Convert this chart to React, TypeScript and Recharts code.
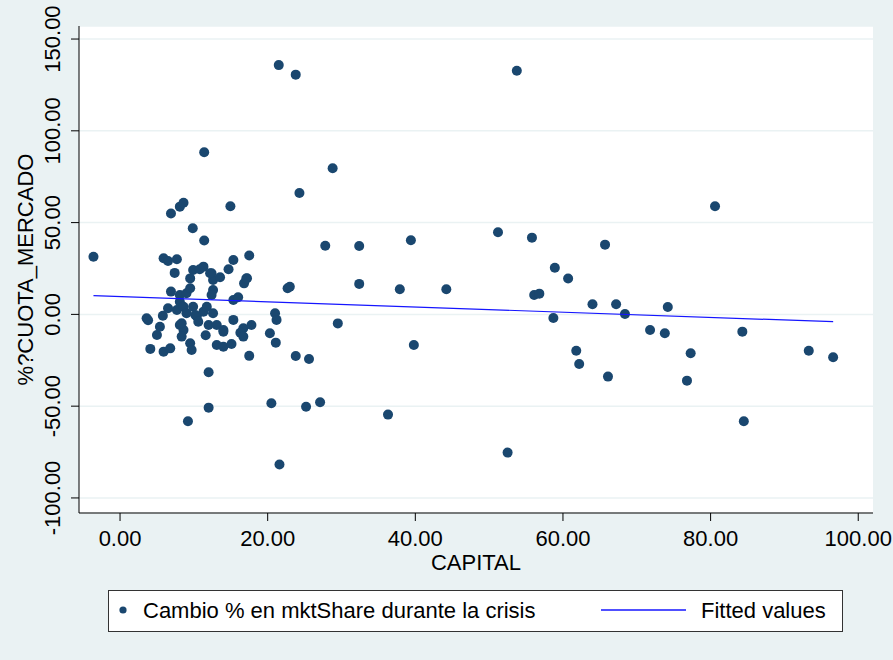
import React from 'react'
import {
  ScatterChart,
  Scatter,
  XAxis,
  YAxis,
  CartesianGrid,
} from 'recharts'

/* ---------- data ---------- */

// CAPITAL (x) and % change in market share (y)
const CAPITAL = [
  -3.6, 3.6, 3.8, 4.1, 5.0, 5.4, 5.8, 5.9, 5.9, 6.5,
  6.5, 6.8, 6.9, 6.9, 7.4, 7.7, 7.7, 8.1, 8.6, 8.1,
  8.1, 8.6, 8.1, 8.6, 8.35, 9.0, 9.5, 9.0, 9.2, 9.5,
  9.7, 9.5, 9.85, 9.9, 9.9, 10.4, 10.8, 11.3, 11.4, 11.4,
  11.75, 11.3, 12.0, 11.6, 12.0, 12.0, 12.4, 12.6, 12.6, 12.4,
  12.6, 13.1, 13.55, 14.0, 13.1, 14.0, 15.1, 14.7, 14.95, 15.35,
  15.35, 16.0, 15.35, 16.7, 16.3, 16.7, 17.2, 16.8, 17.5, 17.8,
  17.5, 20.3, 20.5, 21.0, 21.2, 21.1, 21.6, 21.5, 23.8, 22.7,
  23.0, 23.8, 24.3, 25.6, 25.2, 27.1, 27.8, 28.8, 29.5, 32.4,
  32.4, 36.3, 37.9, 39.4, 39.8, 44.2, 51.2, 52.5, 53.75, 55.8,
  56.1, 56.8, 58.7, 58.9, 60.7, 61.8, 62.2, 64.0, 65.7, 66.1,
  67.2, 68.4, 71.8, 73.8, 74.2, 76.8, 77.3, 80.6, 84.3, 84.5,
  93.3, 96.6, 10.2, 12.2, 14.0, 8.35, 10.6, 17.1,
]
const CUOTA = [
  31.4, -2.1, -3.2, -18.8, -11.2, -6.7, -0.7, 30.6, -20.3, 29.1,
  3.3, -18.5, 55.0, 12.4, 22.6, 30.0, 2.4, 58.7, 60.8, 10.6,
  6.9, 4.2, -5.8, -8.5, -12.1, 11.5, 14.2, 0.6, -58.2, -15.7,
  -19.4, 19.6, 46.9, 24.2, 4.2, -1.2, 24.6, 1.5, 88.3, 40.2,
  4.2, 26.0, -5.8, -11.4, -31.5, -50.8, 22.4, 18.7, 13.3, 10.6,
  0.6, -5.8, 20.2, -9.4, -16.7, -17.6, -16.1, 24.6, 58.9, 29.6,
  7.8, 9.3, -3.0, -7.6, -10.0, -12.1, 19.7, 16.9, 32.1, -5.8,
  -22.6, -10.3, -48.4, 0.6, -3.0, -15.4, -81.8, 135.8, 130.6, 14.2,
  15.1, -22.7, 66.1, -24.3, -50.3, -47.9, 37.4, 79.6, -4.9, 37.3,
  16.6, -54.6, 13.7, 40.4, -16.7, 13.7, 44.7, -75.3, 132.7, 41.8,
  10.6, 11.3, -2.0, 25.4, 19.5, -19.8, -27.0, 5.5, 38.0, -33.9,
  5.5, 0.2, -8.5, -10.3, 4.0, -36.1, -21.2, 58.9, -9.4, -58.2,
  -19.8, -23.4, -0.3, 22.4, -8.5, -4.8, -4.0, 19.5,
]

// fitted regression line end points
const FIT_X = [-3.6, 96.6]
const FIT_Y = [10.2, -4.0]

const X_TICKS = [0, 20, 40, 60, 80, 100]
const Y_TICKS = [-100, -50, 0, 50, 100, 150]

const SERIES_NAMES = ['Cambio % en mktShare durante la crisis', 'Fitted values']

const points = CAPITAL.map((x, i) => ({ x, y: CUOTA[i] }))
const fitted = FIT_X.map((x, i) => ({ x, y: FIT_Y[i] }))

const BG = '#eaf2f3'
const NAVY = '#1a476f'
const BLUE = '#1515ff'
const FONT = '"Liberation Sans", Arial, sans-serif'

/* ---------- ticks / labels ---------- */

function XTick(props: any) {
  const { x, y, payload } = props
  return (
    <text x={x} y={y} dy="0.71em" textAnchor="middle" fontSize={22} fill="#000" fontFamily={FONT}>
      {Number(payload.value).toFixed(2)}
    </text>
  )
}

function YTick(props: any) {
  const { x, y, payload } = props
  return (
    <text
      x={x}
      y={y}
      transform={`rotate(-90 ${x} ${y})`}
      textAnchor="middle"
      fontSize={22}
      fill="#000"
      fontFamily={FONT}
    >
      {Number(payload.value).toFixed(2)}
    </text>
  )
}

const Dot = (props: any) => <circle cx={props.cx} cy={props.cy} r={5} fill={NAVY} />

export default function App() {
  return (
    <div style={{ position: 'absolute', left: 0, top: 0, width: 893, height: 660, background: BG, fontFamily: FONT }}>
      <ScatterChart width={893} height={660} margin={{ top: 26, right: 20, bottom: 0, left: 0 }}>
        <CartesianGrid horizontal vertical={false} stroke={BG} strokeWidth={1.5} fill="#ffffff" fillOpacity={1} />
        <XAxis
          type="number"
          dataKey="x"
          domain={[-5.56, 102]}
          allowDataOverflow
          ticks={X_TICKS}
          interval={0}
          height={147}
          tickSize={8}
          tickMargin={9}
          stroke="#000"
          tick={<XTick />}
          label={{
            content: ({ viewBox }: any) => (
              <text
                x={viewBox.x + viewBox.width / 2}
                y={viewBox.y + 57}
                textAnchor="middle"
                fontSize={22}
                fill="#000"
                fontFamily={FONT}
              >
                CAPITAL
              </text>
            ),
          }}
        />
        <YAxis
          type="number"
          dataKey="y"
          domain={[-108.2, 157.1]}
          allowDataOverflow
          ticks={Y_TICKS}
          interval={0}
          width={79}
          tickSize={8}
          tickMargin={11}
          stroke="#000"
          tick={<YTick />}
          label={{
            content: ({ viewBox }: any) => {
              const lx = viewBox.x + 33
              const ly = viewBox.y + viewBox.height / 2
              return (
                <text
                  x={lx}
                  y={ly}
                  transform={`rotate(-90 ${lx} ${ly})`}
                  textAnchor="middle"
                  fontSize={22}
                  fill="#000"
                  fontFamily={FONT}
                >
                  %?CUOTA_MERCADO
                </text>
              )
            },
          }}
        />
        <Scatter name={SERIES_NAMES[0]} data={points} shape={<Dot />} isAnimationActive={false} />
        <Scatter
          name={SERIES_NAMES[1]}
          data={fitted}
          line={{ stroke: BLUE, strokeWidth: 1.2 }}
          shape={() => <g />}
          isAnimationActive={false}
        />
      </ScatterChart>

      {/* legend box */}
      <div
        style={{
          position: 'absolute',
          left: 108,
          top: 590,
          width: 733,
          height: 40,
          border: '1px solid #333',
          background: '#fff',
          fontSize: 22,
          color: '#000',
        }}
      >
        <svg width={733} height={40} style={{ position: 'absolute', left: 0, top: 0 }}>
          <circle cx={14} cy={19} r={3.6} fill={NAVY} />
          <text x={34} y={19} dy="0.36em" fontSize={22} fontFamily={FONT} fill="#000">
            {SERIES_NAMES[0]}
          </text>
          <line x1={492} x2={577} y1={19} y2={19} stroke="#5050ff" strokeWidth={2} />
          <text x={592} y={19} dy="0.36em" fontSize={22} fontFamily={FONT} fill="#000">
            {SERIES_NAMES[1]}
          </text>
        </svg>
      </div>
    </div>
  )
}
